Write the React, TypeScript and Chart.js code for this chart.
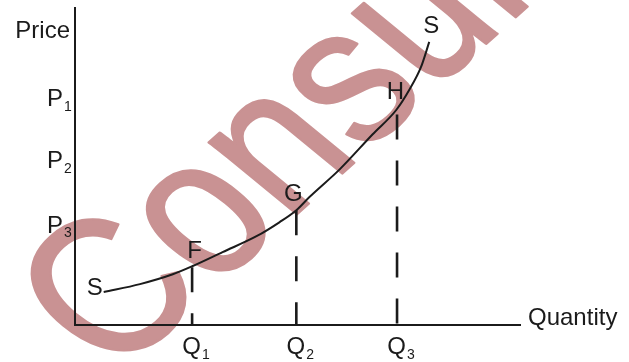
import React, { useEffect, useRef } from "react";
import { Chart, registerables } from "chart.js";

Chart.register(...registerables);

// ---- data (axis units) ----
const curveX = [0.49, 1.11, 1.67, 2.01, 2.52, 3.10, 3.49, 3.78, 4.00, 4.52, 5.08, 5.49, 5.71, 5.91, 6.05];
const curveY = [1.04, 1.29, 1.60, 1.86, 2.30, 2.80, 3.24, 3.62, 4.03, 4.91, 6.01, 6.79, 7.42, 8.14, 8.93];
const qValues = [2.0, 3.78, 5.5];
const qTops = [1.82, 3.62, 6.64];
const qSubs = ["1", "2", "3"];
const pValues = [7.17, 5.22, 3.18];
const pSubs = ["1", "2", "3"];
const priceLevel = 9.31;
const pointNames = ["F", "G", "H"];
const pointIdx = [3, 7, 11];
const curveName = "S";
const yTitle = "Price";
const xTitle = "Quantity";
const watermarkText = "Consultancy";
const X_MAX = 7.6;
const Y_MAX = 10;

const FONT = '"Liberation Sans", Arial, Helvetica, sans-serif';
const INK = "#1b1b1b";
const WM_COLOR = "#c99293";

function drawWatermark(ctx: CanvasRenderingContext2D) {
  const size = 215;
  const kx = 0.85;
  const base = (42 * Math.PI) / 180; // baseline direction
  const up = (140.7 * Math.PI) / 180; // direction of glyph "up" (sheared)
  const ox = 114;
  const oy = 379;
  ctx.save();
  ctx.transform(
    kx * Math.cos(base),
    -kx * Math.sin(base),
    -Math.cos(up),
    Math.sin(up),
    ox,
    oy
  );
  ctx.font = `${size}px ${FONT}`;
  ctx.fillStyle = WM_COLOR;
  ctx.strokeStyle = WM_COLOR;
  ctx.lineWidth = 2.5;
  ctx.lineJoin = "round";
  ctx.textAlign = "left";
  ctx.textBaseline = "alphabetic";
  ctx.fillText(watermarkText, 0, 0);
  ctx.strokeText(watermarkText, 0, 0);
  ctx.restore();
}

const labelPlugin = {
  id: "econLabels",
  beforeDraw(chart: any) {
    drawWatermark(chart.ctx);
  },
  afterDraw(chart: any) {
    const ctx = chart.ctx;
    const xs = chart.scales.x;
    const ys = chart.scales.y;
    const area = chart.chartArea;
    ctx.save();
    ctx.fillStyle = INK;
    ctx.textBaseline = "alphabetic";

    const big = `24px ${FONT}`;
    const small = `14px ${FONT}`;

    // Price title
    ctx.font = big;
    ctx.textAlign = "right";
    ctx.fillText(yTitle, area.left - 5, ys.getPixelForValue(priceLevel) + 8.5);

    // P labels
    pValues.forEach((v, i) => {
      const y = ys.getPixelForValue(v) + 8.5;
      ctx.font = big;
      ctx.textAlign = "right";
      ctx.fillText("P", area.left - 12, y);
      ctx.font = small;
      ctx.textAlign = "left";
      ctx.fillText(pSubs[i], area.left - 11, y + 4.5);
    });

    // Q labels
    qValues.forEach((v, i) => {
      const x = xs.getPixelForValue(v);
      const y = area.bottom + 29;
      ctx.font = big;
      ctx.textAlign = "center";
      ctx.fillText("Q", x - 0.5, y);
      ctx.font = small;
      ctx.textAlign = "left";
      ctx.fillText(qSubs[i], x + 10, y + 5);
    });

    // Quantity title
    ctx.font = big;
    ctx.textAlign = "left";
    ctx.fillText(xTitle, area.right + 8, area.bottom);

    // point names
    const offs = [
      [2, -8.5],
      [-3, -9],
      [-1, -10.5],
    ];
    ctx.font = big;
    ctx.textAlign = "center";
    pointNames.forEach((n, i) => {
      const k = pointIdx[i];
      const px = xs.getPixelForValue(curveX[k]);
      const py = ys.getPixelForValue(curveY[k]);
      ctx.fillText(n, px + offs[i][0], py + offs[i][1]);
    });

    // curve name at both ends
    const sx = xs.getPixelForValue(curveX[0]);
    const sy = ys.getPixelForValue(curveY[0]);
    ctx.fillText(curveName, sx - 9, sy + 3);
    const ex = xs.getPixelForValue(curveX[curveX.length - 1]);
    const ey = ys.getPixelForValue(curveY[curveY.length - 1]);
    ctx.fillText(curveName, ex + 2, ey - 8.5);

    ctx.restore();
  },
};

export default function App() {
  const ref = useRef<HTMLCanvasElement | null>(null);

  useEffect(() => {
    if (!ref.current) return;
    const supply = curveX.map((x, i) => ({ x, y: curveY[i] }));
    const dashed = qValues.map((q, i) => ({
      type: "line" as const,
      data: [
        { x: q, y: qTops[i] },
        { x: q, y: 0 },
      ],
      borderColor: INK,
      borderWidth: 2.6,
      borderDash: [25, 21],
      pointRadius: 0,
      fill: false,
      tension: 0,
    }));
    const chart = new Chart(ref.current, {
      type: "scatter",
      data: {
        datasets: [
          {
            type: "line" as const,
            data: supply,
            borderColor: INK,
            borderWidth: 2,
            pointRadius: 0,
            fill: false,
            cubicInterpolationMode: "monotone",
          } as any,
          ...dashed,
        ],
      },
      options: {
        responsive: false,
        animation: false,
        events: [],
        layout: { padding: { left: 75, top: 8, right: 109, bottom: 37 } },
        plugins: { legend: { display: false }, tooltip: { enabled: false } },
        scales: {
          x: {
            type: "linear",
            min: 0,
            max: X_MAX,
            grid: { display: false, drawTicks: false },
            ticks: { display: false },
            border: { display: true, color: INK, width: 2 },
          },
          y: {
            type: "linear",
            min: 0,
            max: Y_MAX,
            grid: { display: false, drawTicks: false },
            ticks: { display: false },
            border: { display: true, color: INK, width: 2 },
          },
        },
      },
      plugins: [labelPlugin],
    });
    return () => chart.destroy();
  }, []);

  return (
    <div style={{ position: "fixed", left: 0, top: 0, width: 629, height: 362, background: "#fff" }}>
      <canvas ref={ref} width={629} height={362} />
    </div>
  );
}
